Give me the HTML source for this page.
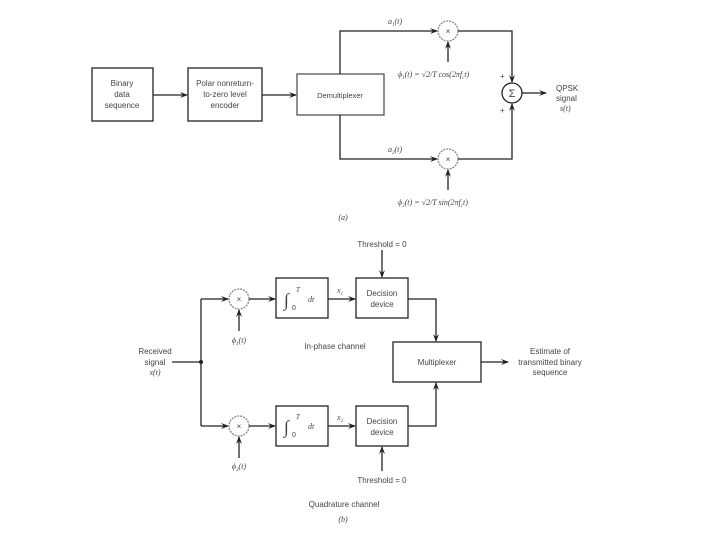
<!DOCTYPE html>
<html><head><style>
html,body{margin:0;padding:0;background:#fff;}
svg{display:block;font-size:8px;}
text{font-family:"Liberation Sans",sans-serif;fill:#444;}
.it{font-family:"Liberation Serif",serif;font-style:italic;}
</style></head><body>
<svg width="720" height="540" viewBox="0 0 720 540" xmlns="http://www.w3.org/2000/svg">
<defs>
<marker id="a" markerWidth="8" markerHeight="6" refX="7" refY="3" orient="auto" markerUnits="userSpaceOnUse">
<path d="M0,0 L8,3 L0,6 L3,3 Z" fill="#222"/></marker>
</defs>
<g stroke="#222" stroke-width="1.3" fill="none">
<rect x="92" y="68" width="61" height="53"/>
<rect x="188" y="68" width="74" height="53"/>
<rect x="297" y="74" width="87" height="41" stroke="#555"/>
<line x1="153" y1="95" x2="187" y2="95" marker-end="url(#a)"/>
<line x1="262" y1="95" x2="296" y2="95" marker-end="url(#a)"/>
<polyline points="340,74 340,31 437,31" marker-end="url(#a)"/>
<polyline points="340,115 340,159 437,159" marker-end="url(#a)"/>
<circle cx="448" cy="31" r="10" stroke="#888" stroke-dasharray="2,1"/>
<circle cx="448" cy="159" r="10" stroke="#888" stroke-dasharray="2,1"/>
<line x1="448" y1="62" x2="448" y2="42" marker-end="url(#a)"/>
<line x1="448" y1="190" x2="448" y2="170" marker-end="url(#a)"/>
<polyline points="458,31 512,31 512,82" marker-end="url(#a)"/>
<polyline points="458,159 512,159 512,104" marker-end="url(#a)"/>
<circle cx="512" cy="93" r="10"/>
<line x1="522" y1="93" x2="546" y2="93" marker-end="url(#a)"/>
<line x1="172" y1="362" x2="201" y2="362"/>
<polyline points="201,299 201,426"/>
<line x1="201" y1="299" x2="228" y2="299" marker-end="url(#a)"/>
<line x1="201" y1="426" x2="228" y2="426" marker-end="url(#a)"/>
<circle cx="239" cy="299" r="10" stroke="#888" stroke-dasharray="2,1"/>
<circle cx="239" cy="426" r="10" stroke="#888" stroke-dasharray="2,1"/>
<line x1="239" y1="331" x2="239" y2="310" marker-end="url(#a)"/>
<line x1="239" y1="458" x2="239" y2="437" marker-end="url(#a)"/>
<line x1="249" y1="299" x2="275" y2="299" marker-end="url(#a)"/>
<line x1="249" y1="426" x2="275" y2="426" marker-end="url(#a)"/>
<rect x="276" y="278" width="52" height="40"/>
<rect x="276" y="406" width="52" height="40"/>
<line x1="328" y1="299" x2="355" y2="299" marker-end="url(#a)"/>
<line x1="328" y1="426" x2="355" y2="426" marker-end="url(#a)"/>
<rect x="356" y="278" width="52" height="40"/>
<rect x="356" y="406" width="52" height="40"/>
<line x1="382" y1="250" x2="382" y2="277" marker-end="url(#a)"/>
<line x1="382" y1="471" x2="382" y2="447" marker-end="url(#a)"/>
<polyline points="408,299 436,299 436,341" marker-end="url(#a)"/>
<polyline points="408,426 436,426 436,383" marker-end="url(#a)"/>
<rect x="393" y="342" width="88" height="40"/>
<line x1="481" y1="362" x2="508" y2="362" marker-end="url(#a)"/>
</g>
<circle cx="201" cy="362" r="2" fill="#222"/>
<text x="122" y="86" text-anchor="middle">Binary</text>
<text x="122" y="97" text-anchor="middle">data</text>
<text x="122" y="108" text-anchor="middle">sequence</text>
<text x="225" y="86" text-anchor="middle">Polar nonreturn-</text>
<text x="225" y="97" text-anchor="middle">to-zero level</text>
<text x="225" y="108" text-anchor="middle">encoder</text>
<text x="340" y="98" text-anchor="middle" font-size="7.5">Demultiplexer</text>
<text x="388" y="24" class="it">a<tspan font-size="5" dy="2">1</tspan><tspan dy="-2">(t)</tspan></text>
<text x="388" y="152" class="it">a<tspan font-size="5" dy="2">2</tspan><tspan dy="-2">(t)</tspan></text>
<text x="448" y="34" text-anchor="middle">×</text>
<text x="448" y="162" text-anchor="middle">×</text>
<text x="398" y="77" class="it">ϕ<tspan font-size="5" dy="2">1</tspan><tspan dy="-2">(t) = √2/T cos(2πf</tspan><tspan font-size="5" dy="2">c</tspan><tspan dy="-2">t)</tspan></text>
<text x="398" y="205" class="it">ϕ<tspan font-size="5" dy="2">2</tspan><tspan dy="-2">(t) = √2/T sin(2πf</tspan><tspan font-size="5" dy="2">c</tspan><tspan dy="-2">t)</tspan></text>
<text x="512" y="97" text-anchor="middle" font-size="11">Σ</text>
<text x="500" y="79">+</text>
<text x="500" y="113">+</text>
<text x="556" y="91">QPSK</text>
<text x="556" y="101">signal</text>
<text x="560" y="111" class="it">s(t)</text>
<text x="343" y="220" text-anchor="middle" class="it">(a)</text>
<text x="382" y="247" text-anchor="middle">Threshold = 0</text>
<text x="382" y="483" text-anchor="middle">Threshold = 0</text>
<text x="239" y="302" text-anchor="middle">×</text>
<text x="239" y="429" text-anchor="middle">×</text>
<text x="239" y="343" text-anchor="middle" class="it">ϕ<tspan font-size="5" dy="2">1</tspan><tspan dy="-2">(t)</tspan></text>
<text x="239" y="469" text-anchor="middle" class="it">ϕ<tspan font-size="5" dy="2">2</tspan><tspan dy="-2">(t)</tspan></text>
<text x="284" y="306" font-size="18" class="it">∫</text><text x="296" y="292" font-size="7" class="it">T</text><text x="292" y="310" font-size="7">0</text><text x="308" y="302" class="it">dt</text>
<text x="284" y="433" font-size="18" class="it">∫</text><text x="296" y="419" font-size="7" class="it">T</text><text x="292" y="437" font-size="7">0</text><text x="308" y="429" class="it">dt</text>
<text x="337" y="293" class="it">x<tspan font-size="5" dy="2">1</tspan></text>
<text x="337" y="420" class="it">x<tspan font-size="5" dy="2">2</tspan></text>
<text x="382" y="296" text-anchor="middle">Decision</text>
<text x="382" y="307" text-anchor="middle">device</text>
<text x="382" y="424" text-anchor="middle">Decision</text>
<text x="382" y="435" text-anchor="middle">device</text>
<text x="437" y="365" text-anchor="middle">Multiplexer</text>
<text x="335" y="349" text-anchor="middle">In-phase channel</text>
<text x="344" y="507" text-anchor="middle">Quadrature channel</text>
<text x="343" y="522" text-anchor="middle" class="it">(b)</text>
<text x="155" y="354" text-anchor="middle">Received</text>
<text x="155" y="365" text-anchor="middle">signal</text>
<text x="155" y="375" text-anchor="middle" class="it">x(t)</text>
<text x="550" y="354" text-anchor="middle">Estimate of</text>
<text x="550" y="365" text-anchor="middle">transmitted binary</text>
<text x="550" y="375" text-anchor="middle">sequence</text>
</svg>
</body></html>
